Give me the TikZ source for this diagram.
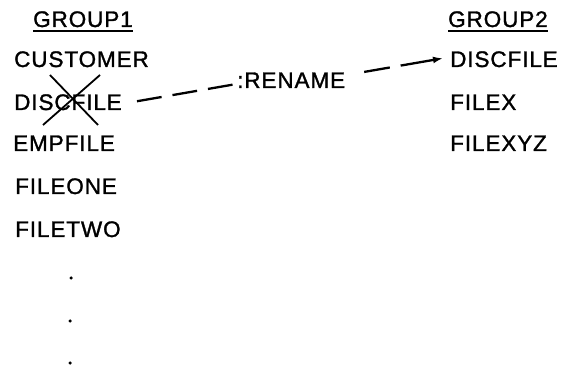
\documentclass[tikz,border=0pt]{standalone}
\usepackage{fontspec}
\setmainfont{Liberation Sans}[LetterSpace=4,FakeBold=1.3]
\usetikzlibrary{calc,arrows.meta}
\tikzset{
  lbl/.style={anchor=base west, inner sep=0pt, font=\fontsize{22.5}{26}\selectfont},
  uline/.style={line width=1.4pt},
  dotmark/.style={circle, fill=black, inner sep=0pt, minimum size=3.5pt},
  crossline/.style={line width=1.8pt},
  dashline/.style={line width=2.3pt, dash pattern=on 25pt off 11pt}
}
\begin{document}
\begin{tikzpicture}[x=1pt,y=-1pt]
\useasboundingbox (0,0) rectangle (573,371);
% group 1
\node[lbl] (g1) at (33,27) {GROUP1};
\node[lbl] (c1) at (14,67) {CUSTOMER};
\node[lbl] (d1) at (14,110) {DISCFILE};
\node[lbl] (e1) at (13,151) {EMPFILE};
\node[lbl] (f1) at (15,194) {FILEONE};
\node[lbl] (t1) at (15,237) {FILETWO};
\draw[uline] ($(g1.base west)+(0,4)$) -- ($(g1.base east)+(0,4)$);
\node[dotmark] (p1) at (71,278) {};
\node[dotmark] (p2) at (70,321) {};
\node[dotmark] (p3) at (70,363) {};
% cross over DISCFILE
\coordinate (x1) at (43,125);
\coordinate (x2) at (100,75);
\coordinate (x3) at (50,75);
\coordinate (x4) at (98,125);
\draw[crossline] (x1) -- (x2);
\draw[crossline] (x3) -- (x4);
% group 2
\node[lbl] (g2) at (448,27) {GROUP2};
\node[lbl] (d2) at (450,67) {DISCFILE};
\node[lbl] (x5) at (450,110) {FILEX};
\node[lbl] (z2) at (450,151) {FILEXYZ};
\draw[uline] ($(g2.base west)+(0,4)$) -- ($(g2.base east)+(0,4)$);
% rename
\node[lbl] (ren) at (237,88) {:RENAME};
\draw[dashline] ([xshift=15pt,yshift=1pt]d1.east) -- ([xshift=-2pt,yshift=-4pt]ren.west);
\draw[dashline,dash pattern=on 34pt off 11pt on 26pt off 30pt,{Latex[length=10pt,width=7pt]}-] ([xshift=-7pt,yshift=1pt]d2.west) -- ([xshift=17pt,yshift=8pt]ren.east);
\end{tikzpicture}
\end{document}
